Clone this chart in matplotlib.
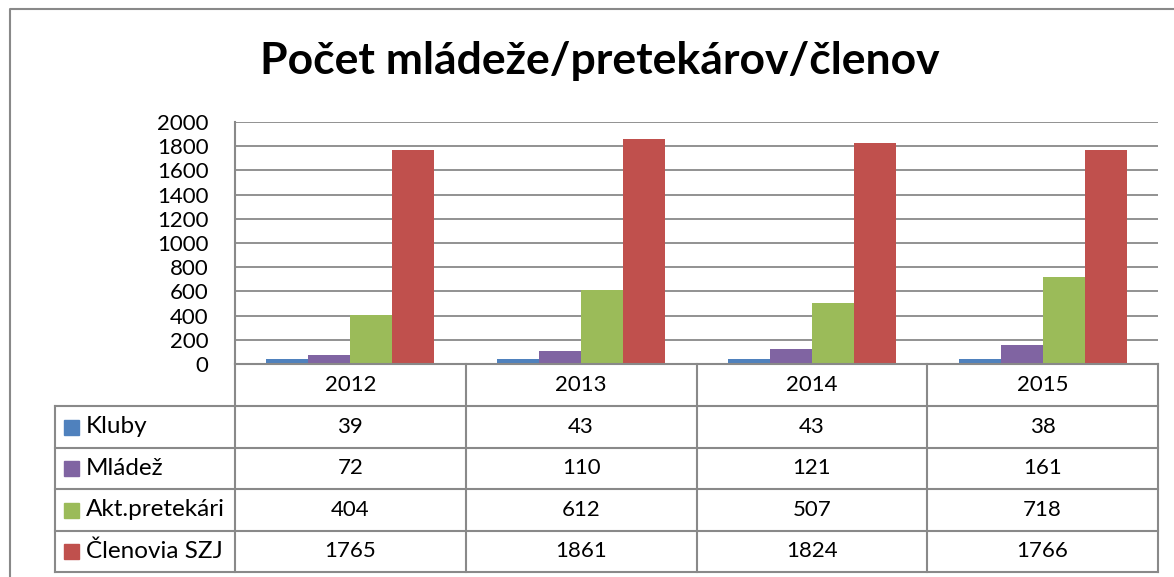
import matplotlib.pyplot as plt
import numpy as np

plt.rcParams['font.family'] = ['Lato', 'DejaVu Sans']

# data
roky = ['2012', '2013', '2014', '2015']
serie = ['Kluby', 'Mládež', 'Akt.pretekári', 'Členovia SZJ']
kluby = [39, 43, 43, 38]
mladez = [72, 110, 121, 161]
pretekari = [404, 612, 507, 718]
clenovia = [1765, 1861, 1824, 1766]
farby = ['#4F81BD', '#8064A2', '#9BBB59', '#C0504D']
hodnoty = [kluby, mladez, pretekari, clenovia]

W, H = 1174, 577
fig = plt.figure(figsize=(W / 100, H / 100), dpi=100)
siva = '#898989'

# hlavny graf (pozicia v pixeloch)
L, R, T, B = 235, 1158, 122, 364
ax = fig.add_axes([L / W, 1 - B / H, (R - L) / W, (B - T) / H])
x = np.arange(len(roky))
sirka = 1 / 5.5
for i, (h, f) in enumerate(zip(hodnoty, farby)):
    ax.bar(x + (i - 1.5) * sirka, h, sirka, color=f, zorder=3, label=serie[i])

ax.set_xlim(-0.5, 3.5)
ax.set_ylim(0, 2000)
ax.set_yticks(range(0, 2001, 200))
ax.yaxis.grid(True, color=siva, lw=1.3, zorder=0)
ax.set_xticks([])
ax.tick_params(axis='y', length=0, pad=19, labelsize=16)
for s in ['top', 'right', 'bottom']:
    ax.spines[s].set_visible(False)
ax.spines['left'].set_color(siva)
ax.spines['left'].set_linewidth(1.5)

fig.text(600 / W, 1 - 61 / H, 'Počet mládeže/pretekárov/členov',
         ha='center', va='center', fontsize=32, fontweight='bold')

# tabulka s datami
tb = fig.add_axes([0, 0, 1, 1], facecolor='none')
tb.set_xlim(0, W)
tb.set_ylim(H, 0)
tb.axis('off')
stlpce = np.linspace(L, R, len(roky) + 1)
riadky = [406, 447.5, 489, 530.5, 572]
lw = 1.5
tb.plot([L, R], [B, B], color=siva, lw=lw)
for y in riadky:
    tb.plot([55, R], [y, y], color=siva, lw=lw)
for xs in stlpce:
    tb.plot([xs, xs], [B, riadky[-1]], color=siva, lw=lw)
tb.plot([55, 55], [riadky[0], riadky[-1]], color=siva, lw=lw)

for j, rok in enumerate(roky):
    xc = (stlpce[j] + stlpce[j + 1]) / 2
    tb.text(xc, (B + riadky[0]) / 2, rok, ha='center', va='center', fontsize=16)
    for i, h in enumerate(hodnoty):
        yc = (riadky[i] + riadky[i + 1]) / 2
        tb.text(xc, yc, str(h[j]), ha='center', va='center', fontsize=16)

for i, nazov in enumerate(serie):
    yc = (riadky[i] + riadky[i + 1]) / 2
    tb.add_patch(plt.Rectangle((64, yc - 7), 15, 15, color=farby[i]))
    tb.text(86, yc, nazov, ha='left', va='center', fontsize=17.5)

# ramik celeho grafu
tb.plot([10, 10, W], [H, 9, 9], color=siva, lw=1.5)

fig.savefig('out.png', dpi=100)
